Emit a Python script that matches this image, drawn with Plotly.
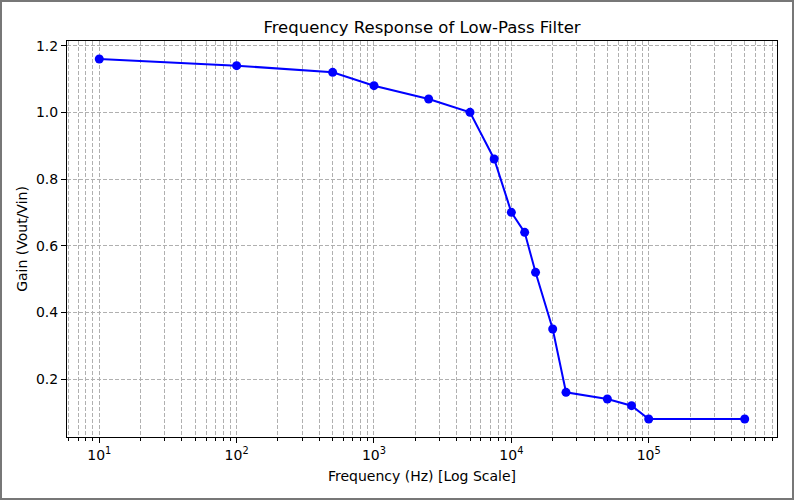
import plotly.graph_objects as go

freq = [10, 100, 500, 1000, 2500, 5000, 7500, 10000, 12500, 15000, 20000, 25000, 50000, 75000, 100000, 500000]
gain = [1.16, 1.14, 1.12, 1.08, 1.04, 1.00, 0.86, 0.70, 0.64, 0.52, 0.35, 0.16, 0.14, 0.12, 0.08, 0.08]

x_tickvals = [10, 100, 1000, 10000, 100000]
x_ticktext = ["10<sup>1</sup>", "10<sup>2</sup>", "10<sup>3</sup>", "10<sup>4</sup>", "10<sup>5</sup>"]
y_tickvals = [0.2, 0.4, 0.6, 0.8, 1.0, 1.2]

W, H = 794, 500
L, R, T, B = 67, 17, 41, 63
pw, ph = W - L - R, H - T - B

fig = go.Figure()
fig.add_trace(go.Scatter(
    x=freq, y=gain, mode="lines+markers",
    line=dict(color="#0000ff", width=2),
    marker=dict(color="#0000ff", size=9),
    showlegend=False,
))

grid_col = "#b0b0b0"
dash = "4px,2px"
fig.update_layout(
    width=W, height=H,
    margin=dict(l=L, r=R, t=T, b=B),
    paper_bgcolor="white", plot_bgcolor="white",
    font=dict(family="DejaVu Sans", size=14, color="black"),
    title=dict(text="Frequency Response of Low-Pass Filter", x=(L + pw / 2) / W,
               xanchor="center", y=1 - 27 / H, yanchor="middle", font=dict(size=16.5)),
    xaxis=dict(
        type="log", range=[0.765, 5.934],
        tickvals=x_tickvals, ticktext=x_ticktext,
        showline=True, linecolor="black", linewidth=1, mirror=True,
        ticks="outside", ticklen=5, tickcolor="black",
        showgrid=True, gridcolor=grid_col, griddash=dash, gridwidth=1,
        minor=dict(dtick="D1", ticks="outside", ticklen=3, tickcolor="black",
                   showgrid=True, gridcolor=grid_col, griddash=dash, gridwidth=1),
        zeroline=False,
        title=dict(text="Frequency (Hz) [Log Scale]", font=dict(size=14), standoff=9),
        tickfont=dict(size=14),
    ),
    yaxis=dict(
        range=[0.026, 1.214],
        tickvals=y_tickvals, tickformat=".1f",
        showline=True, linecolor="black", linewidth=1, mirror=True,
        ticks="outside", ticklen=5, tickcolor="black",
        showgrid=True, gridcolor=grid_col, griddash=dash, gridwidth=1,
        zeroline=False,
        title=dict(text="Gain (Vout/Vin)", font=dict(size=14), standoff=5),
        tickfont=dict(size=14),
    ),
)

fig.add_shape(type="rect", xref="paper", yref="paper",
              x0=-L / pw + 1 / pw, x1=1 + R / pw - 1 / pw,
              y0=-B / ph + 1 / ph, y1=1 + T / ph - 1 / ph,
              line=dict(color="#777777", width=2), layer="above")

fig.write_html("out.html", config={"displayModeBar": False},
               post_script="document.body.style.margin='0';document.body.style.overflow='hidden';")
